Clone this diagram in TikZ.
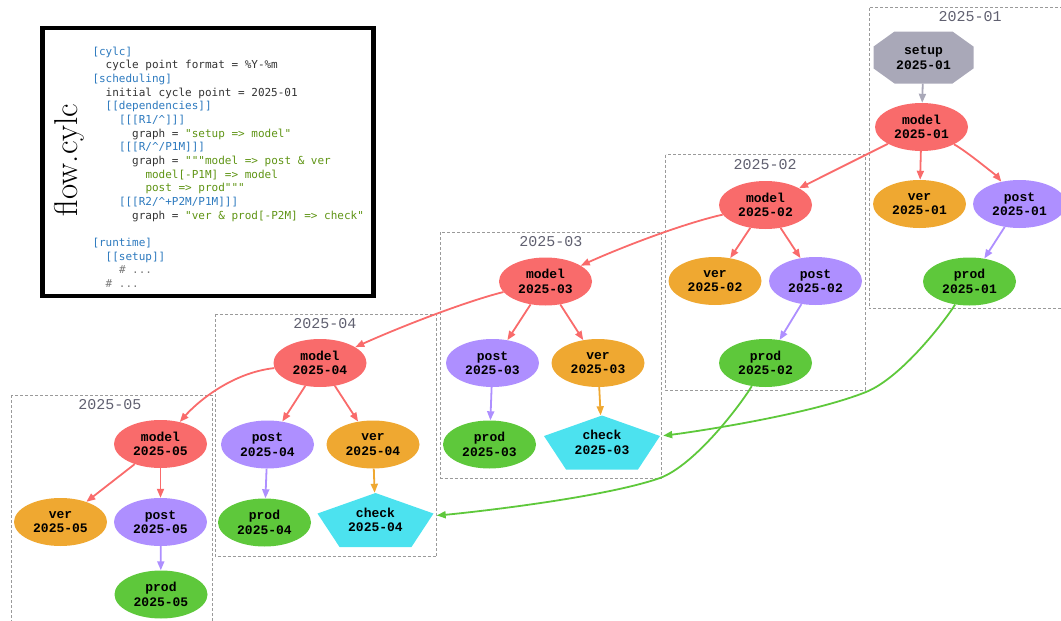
\documentclass[tikz,border=0pt]{standalone}
\usepackage{fontspec}
\usetikzlibrary{shapes.geometric,arrows.meta,calc}
\newfontfamily\codefont{DejaVu Sans Mono}
\newfontfamily\nodefont{Liberation Mono}
\newfontfamily\nodefontb{Liberation Mono Bold}
\definecolor{cmodel}{HTML}{F96B6B}
\definecolor{cver}{HTML}{EFA831}
\definecolor{cpost}{HTML}{AE8FFF}
\definecolor{cprod}{HTML}{5EC83B}
\definecolor{ccheck}{HTML}{4CE2EF}
\definecolor{csetup}{HTML}{A9A8B8}
\definecolor{cblue}{HTML}{2C79BE}
\definecolor{cgreen}{HTML}{5F9414}
\definecolor{ctext}{HTML}{333333}
\definecolor{ccomment}{HTML}{7A7A7A}
\definecolor{cclus}{HTML}{9A9A9A}
\definecolor{clab}{HTML}{606070}
\begin{document}
\begin{tikzpicture}[x=1pt,y=-1pt,
  task/.style={ellipse, minimum width=93pt, minimum height=48pt, inner sep=0pt, align=center,
    font=\nodefontb\fontsize{13}{14.5}\selectfont, text=black},
  modeln/.style={task, fill=cmodel},
  vern/.style={task, fill=cver},
  postn/.style={task, fill=cpost},
  prodn/.style={task, fill=cprod},
  checkn/.style={rectangle, minimum width=116pt, minimum height=54pt, inner sep=0pt, align=center,
    font=\nodefontb\fontsize{13}{14.5}\selectfont, text=black,
    path picture={\fill[ccheck] (path picture bounding box.north)
      -- ($(path picture bounding box.north east)!0.38!(path picture bounding box.south east)$)
      -- ($(path picture bounding box.south east)!0.19!(path picture bounding box.south west)$)
      -- ($(path picture bounding box.south west)!0.19!(path picture bounding box.south east)$)
      -- ($(path picture bounding box.north west)!0.38!(path picture bounding box.south west)$)
      -- cycle;}},
  setupn/.style={rectangle, minimum width=100pt, minimum height=52pt, inner sep=0pt, align=center,
    font=\nodefontb\fontsize{13}{14.5}\selectfont, text=black,
    path picture={\fill[csetup]
      ($(path picture bounding box.north west)!0.21!(path picture bounding box.north east)$)
      -- ($(path picture bounding box.north east)!0.21!(path picture bounding box.north west)$)
      -- ($(path picture bounding box.north east)!0.29!(path picture bounding box.south east)$)
      -- ($(path picture bounding box.south east)!0.29!(path picture bounding box.north east)$)
      -- ($(path picture bounding box.south east)!0.21!(path picture bounding box.south west)$)
      -- ($(path picture bounding box.south west)!0.21!(path picture bounding box.south east)$)
      -- ($(path picture bounding box.south west)!0.29!(path picture bounding box.north west)$)
      -- ($(path picture bounding box.north west)!0.29!(path picture bounding box.south west)$)
      -- cycle;}},
  conn/.style={line width=1.8pt, -{Triangle[length=9pt,width=7pt]}},
  redc/.style={conn, draw=cmodel},
  purc/.style={conn, draw=cpost},
  orac/.style={conn, draw=cver},
  grec/.style={conn, draw=cprod},
  grayc/.style={conn, draw=csetup},
  cluster/.style={draw=cclus, line width=0.8pt, dash pattern=on 3pt off 2pt},
  clabel/.style={font=\nodefont\fontsize{15}{18}\selectfont, text=clab, inner sep=0pt},
  cl/.style={anchor=base west, inner sep=0pt, font=\codefont\fontsize{11}{13.68}\selectfont, text=ctext}
]
\useasboundingbox (0,0) rectangle (1061,621);
\clip (0,0) rectangle (1061,621);

% clusters
\draw[cluster] (869,7.5) rectangle (1075,308.5);
\draw[cluster] (665.5,154.5) rectangle (865,390);
\draw[cluster] (440.5,232) rectangle (661.5,478);
\draw[cluster] (215,314) rectangle (436.5,556.5);
\draw[cluster] (11,395) rectangle (212,630);
\node[clabel] (l01) at (970,17) {2025-01};
\node[clabel] (l02) at (765,164.5) {2025-02};
\node[clabel] (l03) at (551,242) {2025-03};
\node[clabel] (l04) at (325,323.5) {2025-04};
\node[clabel] (l05) at (110,405) {2025-05};

% code box
\node[draw=black, line width=4.5pt, minimum width=331pt, minimum height=268pt, inner sep=0pt] (codebox) at (208,162) {};
\node[rotate=90, inner sep=0pt, font=\fontsize{33}{40}\selectfont] (title) at (69,160) {flow.cylc};
\node[cl] (c1) at (92.3,55) {\textcolor{cblue}{[cylc]}};
\node[cl] (c2) at (105.5,68.68) {cycle point format = \%Y-\%m};
\node[cl] (c3) at (92.3,82.36) {\textcolor{cblue}{[scheduling]}};
\node[cl] (c4) at (105.5,96.04) {initial cycle point = 2025-01};
\node[cl] (c5) at (105.5,109.72) {\textcolor{cblue}{[[dependencies]]}};
\node[cl] (c6) at (118.8,123.4) {\textcolor{cblue}{[[[R1/\textasciicircum]]]}};
\node[cl] (c7) at (132,137.08) {graph = \textcolor{cgreen}{"setup => model"}};
\node[cl] (c8) at (118.8,150.76) {\textcolor{cblue}{[[[R/\textasciicircum/P1M]]]}};
\node[cl] (c9) at (132,164.44) {graph = \textcolor{cgreen}{"""model => post \& ver}};
\node[cl] (c10) at (145.3,178.12) {\textcolor{cgreen}{model[-P1M] => model}};
\node[cl] (c11) at (145.3,191.8) {\textcolor{cgreen}{post => prod"""}};
\node[cl] (c12) at (118.8,205.48) {\textcolor{cblue}{[[[R2/\textasciicircum+P2M/P1M]]]}};
\node[cl] (c13) at (132,219.16) {graph = \textcolor{cgreen}{"ver \& prod[-P2M] => check"}};
\node[cl] (c15) at (92.3,246.52) {\textcolor{cblue}{[runtime]}};
\node[cl] (c16) at (105.5,260.2) {\textcolor{cblue}{[[setup]]}};
\node[cl] (c17) at (118.8,273.88) {\textcolor{ccomment}{\# ...}};
\node[cl] (c18) at (105.5,287.56) {\textcolor{ccomment}{\# ...}};

% tasks
\node[setupn] (s01) at (923.5,57.5) {setup\\2025-01};
\node[modeln] (m01) at (921.5,127) {model\\2025-01};
\node[vern] (v01) at (919.5,204) {ver\\2025-01};
\node[postn] (p01) at (1019.5,204) {post\\2025-01};
\node[prodn] (d01) at (969.5,281.5) {prod\\2025-01};

\node[modeln] (m02) at (765.5,205) {model\\2025-02};
\node[vern] (v02) at (715,281) {ver\\2025-02};
\node[postn] (p02) at (815.5,281) {post\\2025-02};
\node[prodn] (d02) at (765.5,363) {prod\\2025-02};

\node[modeln] (m03) at (545.5,281.5) {model\\2025-03};
\node[postn] (p03) at (492.5,363) {post\\2025-03};
\node[vern] (v03) at (598,363) {ver\\2025-03};
\node[prodn] (d03) at (489.5,444.5) {prod\\2025-03};
\node[checkn] (k03) at (602,442.5) {check\\2025-03};

\node[modeln] (m04) at (320,363) {model\\2025-04};
\node[postn] (p04) at (267.5,444.5) {post\\2025-04};
\node[vern] (v04) at (373,444.5) {ver\\2025-04};
\node[prodn] (d04) at (264.5,522.5) {prod\\2025-04};
\node[checkn] (k04) at (375.5,520) {check\\2025-04};

\node[modeln] (m05) at (160.5,444) {model\\2025-05};
\node[vern] (v05) at (60.5,522) {ver\\2025-05};
\node[postn] (p05) at (160.5,522) {post\\2025-05};
\node[prodn] (d05) at (161,594.5) {prod\\2025-05};

\coordinate (g1) at (866,392);
\coordinate (g2) at (660,478);

% connectors
\draw[grayc] (s01) -- (m01);
\draw[redc] (m01) -- (v01);
\draw[redc] (m01) .. controls +(45,24) and +(-22,-27) .. (p01);
\draw[purc] (p01) -- (d01);
\draw[redc] (m01) -- (m02);

\draw[redc] (m02) -- (v02);
\draw[redc] (m02) -- (p02);
\draw[purc] (p02) -- (d02);
\draw[redc] (m02) .. controls +(-80,18) and +(80,-36) .. (m03);

\draw[redc] (m03) -- (p03);
\draw[redc] (m03) -- (v03);
\draw[purc] (p03) -- (d03);
\draw[orac] (v03) -- (k03);
\draw[redc] (m03) .. controls +(-80,20) and +(80,-36) .. (m04);

\draw[redc] (m04) -- (p04);
\draw[redc] (m04) -- (v04);
\draw[purc] (p04) -- (d04);
\draw[orac] (v04) -- (k04);
\draw[redc] (m04) .. controls +(-90,10) and +(35,-40) .. (m05);

\draw[redc] (m05) -- (v05);
\draw[redc] (m05) -- (p05);
\draw[purc] (p05) -- (d05);

\draw[grec, shorten >=3pt] (d01) .. controls +(-25,40) and +(35,-14) .. (g1)
   .. controls +(-60,24) and +(80,-9) .. (k03);
\draw[grec, shorten >=3pt] (d02) .. controls +(-25,42) and +(35,-13) .. (g2)
   .. controls +(-60,21) and +(80,-6) .. (k04);
\end{tikzpicture}
\end{document}
